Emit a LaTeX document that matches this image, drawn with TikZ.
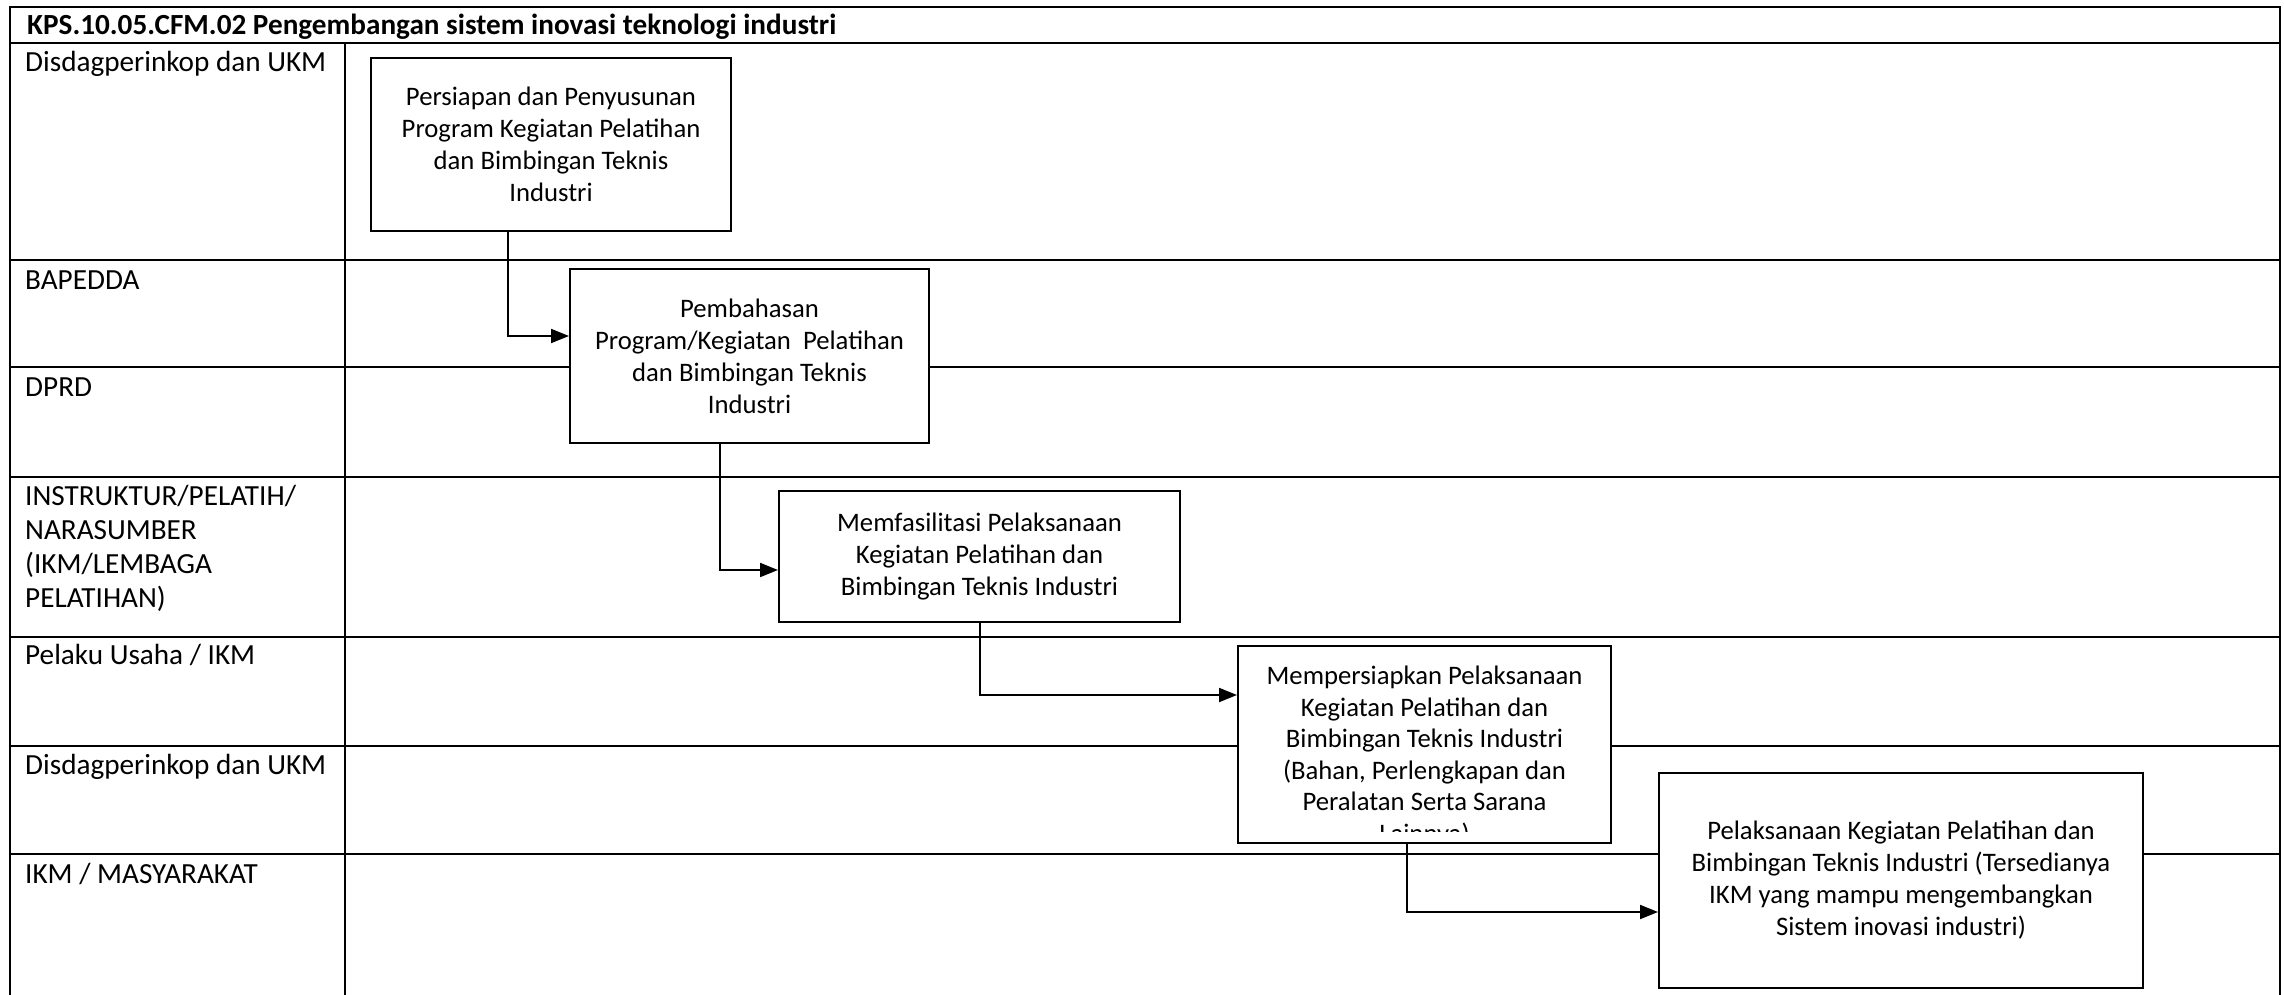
\documentclass[tikz,border=0pt]{standalone}
\usepackage{fontspec}
\setmainfont{Carlito}
\usetikzlibrary{arrows.meta}
\begin{document}
\begin{tikzpicture}[x=1pt,y=-1pt,
  grid/.style={line width=2.5pt,line join=miter},
  box/.style={draw,line width=2pt,fill=white,inner sep=0pt,align=center,font=\fontsize{26.7}{32}\selectfont},
  boxtext/.style={inner sep=0pt,align=center,font=\fontsize{26.7}{31.5}\selectfont},
  lane/.style={anchor=base west,inner sep=0pt,align=left,font=\fontsize{29.2}{34}\selectfont},
  arr/.style={line width=2pt,-{Triangle[length=18pt,width=14pt]}}]
\useasboundingbox (0,0) rectangle (2284,995);
% table
\draw[grid] (10,995) -- (10,7) -- (2280,7) -- (2280,995);
\foreach \yy in {43,260,367,477,637,746,854}
  \draw[grid] (10,\yy) -- (2280,\yy);
\draw[grid] (345,43) -- (345,995);
% title and lane labels
\node[anchor=base west,inner sep=0pt,font=\bfseries\fontsize{29.2}{34}\selectfont] (title) at (27,35) {KPS.10.05.CFM.02 Pengembangan sistem inovasi teknologi industri};
\node[lane] (l1) at (25,72) {Disdagperinkop dan UKM};
\node[lane] (l2) at (25,289) {BAPEDDA};
\node[lane] (l3) at (25,396) {DPRD};
% multi-line: base anchor is the baseline of the last line
\node[lane] (l4) at (25,607) {INSTRUKTUR/PELATIH/\\NARASUMBER\\(IKM/LEMBAGA\\PELATIHAN)};
\node[lane] (l5) at (25,664) {Pelaku Usaha / IKM};
\node[lane] (l6) at (25,774) {Disdagperinkop dan UKM};
\node[lane] (l7) at (25,883) {IKM / MASYARAKAT};
% boxes
\node[box,minimum width=360pt,minimum height=173pt] (b1) at (551,144.5) {Persiapan dan Penyusunan\\Program Kegiatan Pelatihan\\dan Bimbingan Teknis\\Industri};
\node[box,minimum width=359pt,minimum height=174pt] (b2) at (749.5,356) {Pembahasan\\Program/Kegiatan\ \ Pelatihan\\dan Bimbingan Teknis\\Industri};
\node[box,minimum width=401pt,minimum height=131pt] (b3) at (979.5,556.5) {Memfasilitasi Pelaksanaan\\Kegiatan Pelatihan dan\\Bimbingan Teknis Industri};
\node[box,minimum width=373pt,minimum height=197pt] (b4) at (1424.5,744.5) {};
\begin{scope}
  \clip ([yshift=13pt]b4.south west) rectangle (b4.north east);
  \node[boxtext,anchor=north] (b4t) at (1424.5,666) {Mempersiapkan Pelaksanaan\\Kegiatan Pelatihan dan\\Bimbingan Teknis Industri\\(Bahan, Perlengkapan dan\\Peralatan Serta Sarana\\Lainnya)};
\end{scope}
\node[box,minimum width=484pt,minimum height=215pt] (b5) at (1901,880.5) {Pelaksanaan Kegiatan Pelatihan dan\\Bimbingan Teknis Industri (Tersedianya\\IKM yang mampu mengembangkan\\Sistem inovasi industri)};
% connectors
\draw[arr] ([xshift=-43pt]b1.south) |- ([yshift=20pt]b2.west);
\draw[arr] ([xshift=-29.5pt]b2.south) |- ([yshift=-13.5pt]b3.west);
\draw[arr] (b3.south) |- ([yshift=49.5pt]b4.west);
\draw[arr] ([xshift=-17.5pt]b4.south) |- ([yshift=-31.5pt]b5.west);
\end{tikzpicture}
\end{document}
